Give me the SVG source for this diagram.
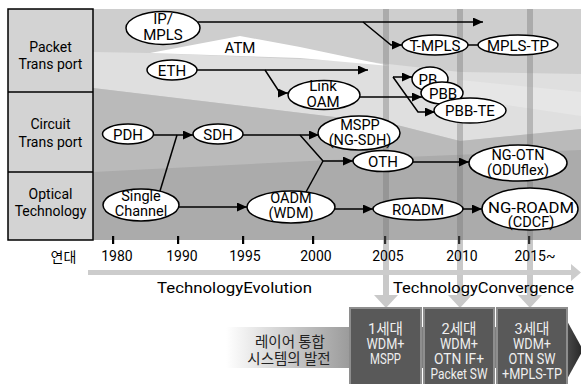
<svg xmlns="http://www.w3.org/2000/svg" width="581" height="384" viewBox="0 0 581 384">
<defs>
<style>
.nd{fill:#fff;stroke:#000;stroke-width:1.5}
.nt{font-family:Roboto,"Liberation Sans",sans-serif;font-size:15px;fill:#000;text-anchor:middle}
.n2{font-size:14.5px}
.lb{font-family:Roboto,"Liberation Sans",sans-serif;font-size:14px;fill:#000;text-anchor:middle}
.yr{font-family:Roboto,"Liberation Sans",sans-serif;font-size:14px;fill:#000;text-anchor:middle}
.kr{font-family:"Noto Sans CJK KR",sans-serif;font-size:14.5px;fill:#222;text-anchor:middle}
.bx{fill:#595959;stroke:#8e8e8e;stroke-width:2}
.bt{font-family:Roboto,"Noto Sans CJK KR",sans-serif;font-size:15px;fill:#efefef;text-anchor:middle}
.ln{fill:none;stroke:#000;stroke-width:1.5}
.ar{marker-end:url(#ah)}
.st{fill:#787878;fill-opacity:0.4}
</style>
<marker id="ah" markerUnits="userSpaceOnUse" markerWidth="10" markerHeight="9" refX="10" refY="4.5" orient="auto">
<path d="M0,0 L10,4.5 L0,9 z" fill="#000"/>
</marker>
<linearGradient id="gb" x1="0" y1="0" x2="1" y2="0">
<stop offset="0" stop-color="#ffffff"/>
<stop offset="1" stop-color="#999999"/>
</linearGradient>
<linearGradient id="ga" x1="0" y1="0" x2="1" y2="0">
<stop offset="0" stop-color="#4a4a4a"/>
<stop offset="1" stop-color="#262626"/>
</linearGradient>
</defs>
<rect width="581" height="384" fill="#fff"/>
<g id="background">
<rect x="93" y="9" width="488" height="231" fill="#cecece"/>
<polygon points="93,52 150,53 370,62 460,72 581,74 581,129 460,141 393,124 93,88" fill="#dfdfdf"/>
<polygon points="460,80 581,92 581,116 460,98" fill="#e6e6e6"/>
<polygon points="150,53 240,36 300,47 390,66 300,58" fill="#ffffff"/>
<polygon points="93,88 393,124 460,141 581,129 581,240 93,240" fill="#bababa"/>
<polygon points="93,172 330,160 581,150 581,240 93,240" fill="#ababab"/>
</g>
<g id="row-labels">
<rect x="8" y="9" width="85" height="231" fill="#d3d3d3" stroke="#000" stroke-width="1.5"/>
<line x1="8" y1="92" x2="93" y2="92" stroke="#000" stroke-width="1.5"/>
<line x1="8" y1="172" x2="93" y2="172" stroke="#000" stroke-width="1.5"/>
<text class="lb" x="50.5" y="52">Packet</text>
<text class="lb" x="50.5" y="69">Trans port</text>
<text class="lb" x="50.5" y="129">Circuit</text>
<text class="lb" x="50.5" y="147">Trans port</text>
<text class="lb" x="50.5" y="199">Optical</text>
<text class="lb" x="50.5" y="216">Technology</text>
</g>
<g id="ticks" fill="#000">
<rect x="112" y="236" width="2.2" height="8"/>
<rect x="177" y="236" width="2.2" height="8"/>
<rect x="242" y="236" width="2.2" height="8"/>
<rect x="312" y="236" width="2.2" height="8"/>
<rect x="384" y="236" width="2.2" height="8"/>
<rect x="458" y="236" width="2.2" height="8"/>
<rect x="528" y="236" width="2.2" height="8"/>
</g>
<g id="stripes">
<polygon class="st" points="383,9 389,9 389,295 398,295 386,308 374,295 383,295"/>
<polygon class="st" points="457,9 463,9 463,295 472,295 460,308 448,295 457,295"/>
<polygon class="st" points="527,9 533,9 533,295 542,295 530,308 518,295 527,295"/>
</g>
<g id="timeline">
<polygon points="88,270 571,270 571,264 581,272.5 571,281 571,275 88,275" fill="#cccccc"/>
<text class="kr" x="63.5" y="262" style="fill:#000;font-size:14px">연대</text>
<text class="yr" x="117" y="261">1980</text>
<text class="yr" x="182" y="261">1990</text>
<text class="yr" x="245" y="261">1995</text>
<text class="yr" x="316" y="261">2000</text>
<text class="yr" x="388" y="261">2005</text>
<text class="yr" x="462" y="261">2010</text>
<text class="yr" x="535" y="261">2015~</text>
<text class="nt" x="234.5" y="293" textLength="155" lengthAdjust="spacingAndGlyphs">TechnologyEvolution</text>
<text class="nt" x="483.5" y="293" textLength="181" lengthAdjust="spacingAndGlyphs">TechnologyConvergence</text>
</g>
<g id="connectors">
<path class="ln ar" d="M198,22 H483"/>
<path class="ln ar" d="M363,22 L391,45 H402"/>
<path class="ln" d="M468,45 H478"/>
<path class="ln ar" d="M196,70 H368"/>
<path class="ln ar" d="M265,70 L280,93 H288"/>
<path class="ln ar" d="M360,97 H422"/>
<path class="ln ar" d="M393,77 H412"/>
<path class="ln ar" d="M393,77 L418,112 H435"/>
<path class="ln ar" d="M153,135 H193"/>
<path class="ln" d="M160,191 L177,135"/>
<path class="ln ar" d="M243,135 H319"/>
<path class="ln ar" d="M300,135 L323,161 H353"/>
<path class="ln" d="M306,192 L323,161"/>
<path class="ln ar" d="M413,162 H469"/>
<path class="ln ar" d="M179,207 H247"/>
<path class="ln ar" d="M335,209 H373"/>
<path class="ln ar" d="M463,209 H482"/>
</g>
<g id="atm"><text class="nt" x="240" y="53">ATM</text></g>
<g id="n-ipmpls"><ellipse class="nd" cx="163" cy="28" rx="37" ry="16.5"/><text class="nt" x="163" y="24">IP/</text><text class="nt" x="163" y="40">MPLS</text></g>
<g id="n-eth"><ellipse class="nd" cx="172" cy="70" rx="25" ry="10"/><text class="nt" x="172" y="75.5">ETH</text></g>
<g id="n-linkoam"><ellipse class="nd" cx="324" cy="95" rx="36" ry="14.5"/><text class="nt" x="323" y="91">Link</text><text class="nt" x="323" y="106.5">OAM</text></g>
<g id="n-tmpls"><ellipse class="nd" cx="435" cy="45" rx="33" ry="10"/><text class="nt" x="435" y="51">T-MPLS</text></g>
<g id="n-mplstp"><ellipse class="nd" cx="518" cy="45" rx="40" ry="10"/><text class="nt" x="518" y="51">MPLS-TP</text></g>
<g id="n-pb"><ellipse class="nd" cx="430" cy="79" rx="18" ry="12"/><text class="nt" x="428" y="85">PB</text></g>
<g id="n-pbb"><ellipse class="nd" cx="442" cy="93" rx="21" ry="11"/><text class="nt" x="443" y="99">PBB</text></g>
<g id="n-pbbte"><ellipse class="nd" cx="470" cy="110.5" rx="36" ry="12.5"/><text class="nt" x="470" y="116">PBB-TE</text></g>
<g id="n-pdh"><ellipse class="nd" cx="128" cy="134" rx="25.5" ry="10"/><text class="nt" x="128" y="139.5">PDH</text></g>
<g id="n-sdh"><ellipse class="nd" cx="218" cy="134" rx="25" ry="10"/><text class="nt" x="218" y="139.5">SDH</text></g>
<g id="n-mspp"><ellipse class="nd" cx="359" cy="133" rx="41" ry="17"/><text class="nt n2" x="360" y="130">MSPP</text><text class="nt n2" x="360" y="145">(NG-SDH)</text></g>
<g id="n-oth"><ellipse class="nd" cx="383" cy="161" rx="30" ry="10.5"/><text class="nt" x="383" y="167">OTH</text></g>
<g id="n-ngotn"><ellipse class="nd" cx="518" cy="163" rx="49" ry="18"/><text class="nt n2" x="518" y="160">NG-OTN</text><text class="nt n2" x="518" y="175">(ODUflex)</text></g>
<g id="n-single"><ellipse class="nd" cx="141" cy="205" rx="38" ry="16"/><text class="nt n2" x="141" y="201">Single</text><text class="nt n2" x="141" y="215.5">Channel</text></g>
<g id="n-oadm"><ellipse class="nd" cx="291" cy="207" rx="44" ry="16"/><text class="nt n2" x="291" y="203">OADM</text><text class="nt n2" x="291" y="218">(WDM)</text></g>
<g id="n-roadm"><ellipse class="nd" cx="418" cy="209" rx="45" ry="11"/><text class="nt" x="418" y="214.5">ROADM</text></g>
<g id="n-ngroadm"><ellipse class="nd" cx="530" cy="209" rx="48" ry="21"/><text class="nt n2" x="531" y="212.5" textLength="86" lengthAdjust="spacingAndGlyphs">NG-ROADM</text><text class="nt n2" x="531" y="227">(CDCF)</text></g>
<g id="evolution-bar">
<rect x="226" y="327" width="126" height="41" fill="url(#gb)"/>
<rect x="350" y="327" width="218" height="41" fill="#7e7e7e"/>
<polygon points="566,319 583,350 566,381" fill="url(#ga)"/>
<text class="kr" x="290" y="347">레이어 통합</text>
<text class="kr" x="289" y="364">시스템의 발전</text>
</g>
<g id="gen1"><rect class="bx" x="350" y="308" width="71" height="80"/>
<text class="bt" x="385.5" y="334" textLength="35" lengthAdjust="spacingAndGlyphs">1세대</text>
<text class="bt" x="385.5" y="349" textLength="38" lengthAdjust="spacingAndGlyphs">WDM+</text>
<text class="bt" x="385.5" y="364" textLength="31" lengthAdjust="spacingAndGlyphs">MSPP</text></g>
<g id="gen2"><rect class="bx" x="424" y="308" width="70" height="80"/>
<text class="bt" x="459" y="334" textLength="35" lengthAdjust="spacingAndGlyphs">2세대</text>
<text class="bt" x="459" y="349" textLength="38" lengthAdjust="spacingAndGlyphs">WDM+</text>
<text class="bt" x="459" y="364" textLength="50" lengthAdjust="spacingAndGlyphs">OTN IF+</text>
<text class="bt" x="459" y="379" textLength="57" lengthAdjust="spacingAndGlyphs">Packet SW</text></g>
<g id="gen3"><rect class="bx" x="497" y="308" width="70" height="80"/>
<text class="bt" x="532" y="334" textLength="35" lengthAdjust="spacingAndGlyphs">3세대</text>
<text class="bt" x="532" y="349" textLength="38" lengthAdjust="spacingAndGlyphs">WDM+</text>
<text class="bt" x="532" y="364" textLength="47" lengthAdjust="spacingAndGlyphs">OTN SW</text>
<text class="bt" x="532" y="379" textLength="60" lengthAdjust="spacingAndGlyphs">+MPLS-TP</text></g>
</svg>
